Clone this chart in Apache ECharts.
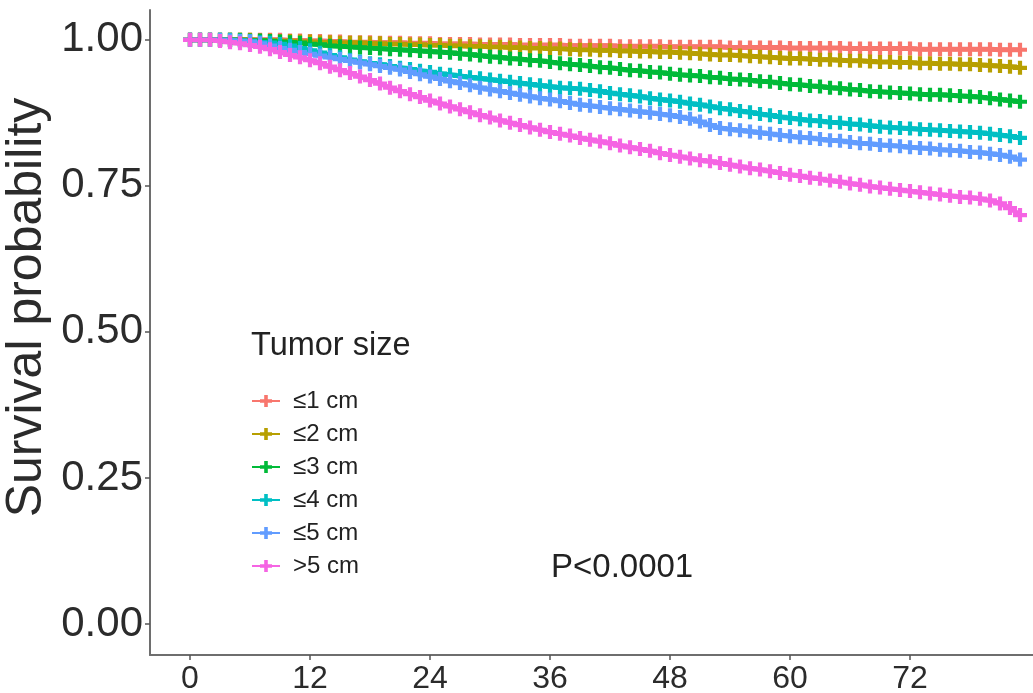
<!DOCTYPE html>
<html>
<head>
<meta charset="utf-8">
<script src="https://cdn.jsdelivr.net/npm/echarts@6/dist/echarts.min.js"></script>
<style>
html,body{margin:0;padding:0;background:#fff;}
#main{width:1033px;height:693px;}
</style>
</head>
<body>
<div id="main"></div>
<script>
// months 0..83, one censor mark per month
var months=[];
for(var m=0;m<=83;m++){months.push(m);}

var groupNames=['≤1 cm','≤2 cm','≤3 cm','≤4 cm','≤5 cm','>5 cm'];
var groupColors=['#F8766D','#B79F00','#00BA38','#00BFC4','#619CFF','#F564E3'];

var surv1=[1,1,1,1,1,1,1,1,1,1,
    .999,.999,.998,.998,.997,.997,.996,.996,.996,.995,
    .995,.995,.994,.994,.994,.993,.993,.993,.993,.992,
    .992,.992,.992,.991,.991,.991,.991,.991,.990,.990,
    .990,.990,.990,.989,.989,.989,.989,.989,.988,.988,
    .988,.988,.988,.988,.987,.987,.987,.987,.987,.987,
    .986,.986,.986,.986,.986,.986,.985,.985,.985,.985,
    .985,.985,.985,.984,.984,.984,.984,.984,.984,.984,
    .984,.983,.983,.983];
var surv2=[1,1,1,1,1,1,1,.999,.999,.998,
    .998,.997,.997,.996,.996,.995,.995,.995,.994,.994,
    .993,.993,.992,.992,.991,.991,.990,.990,.989,.989,
    .988,.988,.987,.987,.986,.986,.985,.985,.984,.983,
    .983,.982,.982,.981,.981,.980,.980,.979,.979,.978,
    .977,.976,.975,.974,.974,.973,.972,.971,.970,.969,
    .968,.968,.967,.966,.966,.965,.964,.964,.963,.962,
    .962,.961,.961,.960,.960,.959,.959,.958,.958,.957,
    .956,.955,.954,.952];
var surv3=[1,1,1,1,1,1,.999,.999,.998,.997,
    .996,.995,.993,.992,.990,.989,.988,.987,.986,.985,
    .984,.983,.982,.981,.980,.979,.978,.976,.975,.973,
    .971,.970,.968,.967,.965,.964,.962,.960,.958,.957,
    .955,.953,.952,.950,.948,.947,.945,.944,.942,.940,
    .939,.938,.936,.935,.933,.932,.931,.929,.928,.926,
    .924,.923,.921,.920,.918,.917,.915,.914,.912,.911,
    .910,.909,.908,.907,.906,.906,.905,.904,.903,.902,
    .900,.898,.896,.894];
var surv4=[1,1,1,1,1,.999,.998,.996,.995,.993,
    .990,.986,.982,.978,.974,.970,.966,.963,.960,.958,
    .955,.952,.950,.947,.945,.942,.940,.938,.936,.934,
    .932,.930,.928,.926,.924,.922,.920,.918,.917,.916,
    .914,.912,.909,.907,.905,.903,.900,.898,.896,.894,
    .891,.889,.886,.883,.881,.878,.876,.873,.871,.868,
    .866,.864,.862,.861,.859,.858,.856,.855,.853,.851,
    .850,.849,.848,.847,.846,.845,.844,.843,.842,.841,
    .839,.837,.835,.832];
var surv5=[1,1,1,1,.999,.998,.997,.994,.990,.986,
    .983,.979,.976,.973,.970,.967,.964,.961,.958,.955,
    .952,.949,.945,.941,.937,.933,.929,.926,.922,.918,
    .915,.912,.909,.906,.903,.900,.898,.895,.892,.889,
    .887,.885,.883,.881,.879,.877,.875,.873,.871,.868,
    .865,.860,.854,.849,.847,.845,.843,.841,.839,.837,
    .835,.833,.832,.830,.828,.827,.825,.823,.822,.820,
    .819,.818,.816,.815,.814,.812,.811,.810,.808,.807,
    .805,.803,.800,.795];
var surv6=[1,1,1,.998,.996,.994,.991,.988,.984,.979,
    .974,.970,.965,.960,.954,.948,.943,.937,.931,.925,
    .918,.912,.907,.902,.896,.891,.886,.881,.876,.871,
    .867,.862,.858,.854,.850,.846,.842,.839,.836,.832,
    .829,.826,.823,.819,.816,.813,.810,.806,.803,.800,
    .797,.794,.792,.789,.786,.783,.780,.778,.775,.772,
    .769,.767,.764,.762,.759,.757,.754,.752,.749,.747,
    .745,.743,.741,.739,.737,.735,.733,.731,.730,.728,
    .725,.720,.712,.700];

var xTicks=[0,12,24,36,48,60,72];
var yTicks=[0,0.25,0.5,0.75,1];
var pText='P<0.0001';

var allSurv=[surv1,surv2,surv3,surv4,surv5,surv6];
// censor mark: plus sign
var plusPath='path://M3.5,0h3v3.5h3.5v3h-3.5v3.5h-3v-3.5h-3.5v-3h3.5z';
var font='"Liberation Sans", Arial, Helvetica, sans-serif';

var chart=echarts.init(document.getElementById('main'));

var series=[];
for(var i=0;i<allSurv.length;i++){
    var pts=[];
    for(var j=0;j<months.length;j++){
        pts.push([months[j],allSurv[i][j]]);
    }
    series.push({
        name:groupNames[i],
        type:'line',
        data:pts,
        symbol:plusPath,
        symbolSize:14,
        showSymbol:true,
        showAllSymbol:true,
        animation:false,
        color:groupColors[i],
        lineStyle:{width:5,color:groupColors[i]},
        itemStyle:{color:groupColors[i]},
        emphasis:{disabled:true}
    });
}

var option={
    backgroundColor:'#fff',
    textStyle:{fontFamily:font},
    grid:{left:150,right:0,top:10,bottom:38,outerBoundsMode:'none',containLabel:false},
    title:{
        text:'Tumor size',
        left:246,
        top:325,
        textStyle:{fontFamily:font,fontSize:32.5,fontWeight:'normal',color:'#222'}
    },
    legend:{
        orient:'vertical',
        left:246,
        top:384,
        itemWidth:28,
        itemHeight:15,
        itemGap:9,
        data:groupNames,
        textStyle:{fontFamily:font,fontSize:24,color:'#222',padding:[0,0,0,8]}
    },
    xAxis:{
        type:'value',
        min:-4,
        max:84.3,
        splitLine:{show:false},
        axisLine:{onZero:false,lineStyle:{color:'#6e6e6e',width:2}},
        axisTick:{show:true,length:5,lineStyle:{color:'#555',width:1.5},customValues:xTicks},
        axisLabel:{customValues:xTicks,fontSize:32,color:'#2b2b2b',margin:8,fontFamily:font}
    },
    yAxis:{
        type:'value',
        min:-0.053,
        max:1.051,
        name:'Survival probability',
        nameLocation:'middle',
        nameGap:98,
        nameMoveOverlap:false,
        nameTextStyle:{fontSize:50,color:'#2b2b2b',fontFamily:font,padding:[0,0,0,50]},
        splitLine:{show:false},
        axisLine:{onZero:false,lineStyle:{color:'#6e6e6e',width:2}},
        axisTick:{show:true,length:5,lineStyle:{color:'#555',width:1.5},customValues:yTicks},
        axisLabel:{customValues:yTicks,fontSize:42,color:'#2b2b2b',margin:7,fontFamily:font,
            formatter:function(v){return v.toFixed(2);}}
    },
    graphic:[{
        type:'text',
        left:551,
        top:551,
        style:{text:pText,fontSize:33,fill:'#222',fontFamily:font}
    }],
    series:series
};
chart.setOption(option);
</script>
</body>
</html>
